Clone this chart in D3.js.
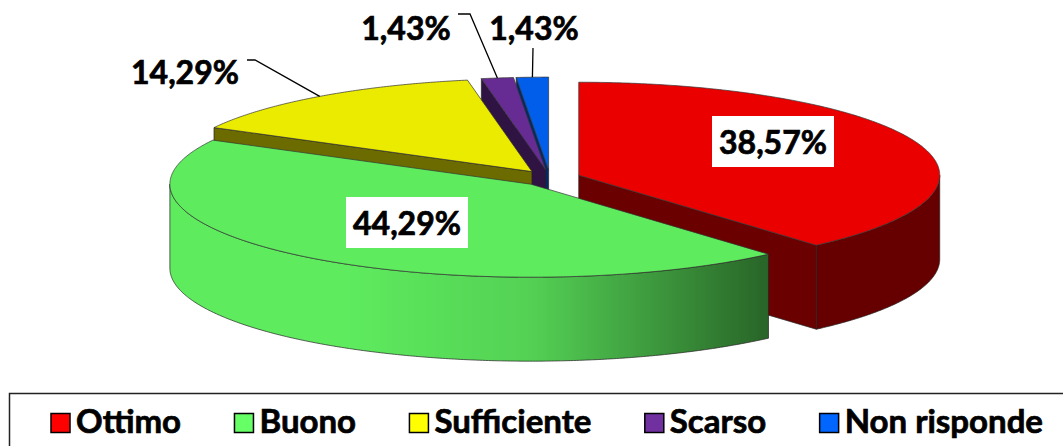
<!DOCTYPE html>
<html lang="it">
<head>
<meta charset="UTF-8">
<title>Giudizio</title>
<style>
  body { margin: 0; background: #fff; }
  svg { display: block; }
  .lbl, .leg { font-family: Lato, "Open Sans", sans-serif; font-weight: bold; fill: #000;
               stroke: #000; stroke-width: 0.7px; paint-order: stroke; }
  .lbl { font-size: 32px; }
  .leg { font-size: 33px; }
</style>
</head>
<body>
<div id="chart"></div>
<script src="https://cdnjs.cloudflare.com/ajax/libs/d3/7.8.5/d3.min.js"></script>
<script>
// data
var categories = ["Ottimo", "Buono", "Sufficiente", "Scarso", "Non risponde"];
var values = [38.57, 44.29, 14.29, 1.43, 1.43];
var palette = ["#FF0000", "#66FF66", "#FFFF00", "#7030A0", "#0066FF"];

// where Excel put each data label (text centre) + leader line start
var labelLayout = [
  { x: 773, y: 142, box: true },
  { x: 407, y: 223, box: true },
  { x: 185, y: 72, leader: [[247, 60], [255, 60]] },
  { x: 406, y: 28, leader: [[458, 14], [470, 14]] },
  { x: 534, y: 28, leader: [[533, 48]] }
];

var W = 1063, H = 446;
var cx = 550, cy = 178, rx = 361, ry = 93, depth = 84, explode = 0.085;

var it = d3.formatLocale({ decimal: ",", thousands: ".", grouping: [3], currency: ["", "€"] });
var fmt = function(v) { return it.format(".2f")(v) + "%"; };

var svg = d3.select("#chart").append("svg")
  .attr("width", W).attr("height", H);
var defs = svg.append("defs");

var pie = d3.pie().sort(null).value(function(d) { return d; });
var arcs = pie(values);

function pt(c, a, r) {
  return [c[0] + Math.sin(a) * rx * r, c[1] - Math.cos(a) * ry * r];
}
function down(p) { return [p[0], p[1] + depth]; }
function shade(col, k) {
  var c = d3.rgb(col);
  return d3.rgb(c.r * k, c.g * k, c.b * k).formatHex();
}
// light from the left: wall brightness by angle
function wallK(a) {
  var s = Math.sin(a);
  var k = s > 0 ? 0.82 - 0.65 * s : 0.82 - 0.2 * s;
  return Math.max(0.40, Math.min(0.92, k));
}
var line = d3.line();

var slices = arcs.map(function(d, i) {
  var mid = (d.startAngle + d.endAngle) / 2;
  var c = pt([cx, cy], mid, explode);
  return { d: d, i: i, mid: mid, c: c };
});

// back-to-front
var order = slices.slice().sort(function(a, b) {
  return -Math.cos(a.mid) - -Math.cos(b.mid);
});

var g = svg.append("g");
order.forEach(function(s) {
  var a0 = s.d.startAngle, a1 = s.d.endAngle, col = palette[s.i];
  var sg = g.append("g");

  // radial faces that face the viewer
  [[a0, Math.sin(a0) < -1e-6], [a1, Math.sin(a1) > 1e-6]].forEach(function(f) {
    if (!f[1]) return;
    var p = pt(s.c, f[0], 1);
    sg.append("path")
      .attr("d", line([s.c, p, down(p), down(s.c)]) + "Z")
      .attr("fill", shade(col, 0.42))
      .attr("stroke", "#222").attr("stroke-width", 0.7).attr("stroke-linejoin", "round");
  });

  // outer wall, front half only, horizontal gradient
  var w0 = Math.max(a0, Math.PI / 2), w1 = Math.min(a1, Math.PI * 1.5);
  if (w1 > w0) {
    var n = Math.ceil((w1 - w0) / (Math.PI / 360));
    var step = (w1 - w0) / n;
    var topRim = d3.range(n + 1).map(function(k) { return pt(s.c, w0 + k * step, 1); });
    var xs = topRim.map(function(p) { return p[0]; });
    var xMin = d3.min(xs), xMax = d3.max(xs);
    var gid = "wall" + s.i;
    var grad = defs.append("linearGradient").attr("id", gid)
      .attr("gradientUnits", "userSpaceOnUse")
      .attr("x1", xMin).attr("x2", xMax).attr("y1", 0).attr("y2", 0);
    d3.range(n + 1).map(function(k) { return w0 + k * step; })
      .sort(function(a, b) { return pt(s.c, a, 1)[0] - pt(s.c, b, 1)[0]; })
      .forEach(function(a) {
        var off = xMax > xMin ? (pt(s.c, a, 1)[0] - xMin) / (xMax - xMin) : 0;
        grad.append("stop").attr("offset", off).attr("stop-color", shade(col, wallK(a)));
      });
    var botRim = topRim.map(down).reverse();
    sg.append("path")
      .attr("d", line(topRim.concat(botRim)) + "Z")
      .attr("fill", "url(#" + gid + ")").attr("stroke", "#222").attr("stroke-width", 0.7);
  }

  // top
  var m = Math.ceil((a1 - a0) / (Math.PI / 360));
  var rim = d3.range(m + 1).map(function(k) { return pt(s.c, a0 + (a1 - a0) * k / m, 1); });
  sg.append("path")
    .attr("d", line([s.c].concat(rim)) + "Z")
    .attr("fill", shade(col, 0.92))
    .attr("stroke", "#333").attr("stroke-width", 0.7).attr("stroke-linejoin", "round");
});

// data labels
var lg = svg.append("g");
slices.forEach(function(s) {
  var L = labelLayout[s.i];
  if (L.box) {
    lg.append("rect")
      .attr("x", L.x - 61).attr("y", L.y - 26)
      .attr("width", 122).attr("height", 51)
      .attr("fill", "#fff");
  }
  lg.append("text").attr("class", "lbl")
    .attr("x", L.x).attr("y", L.y + 11.5)
    .attr("text-anchor", "middle")
    .text(fmt(values[s.i]));
  if (L.leader) {
    var anchor = pt(s.c, s.mid, 1);
    lg.append("path")
      .attr("d", line(L.leader.concat([anchor])))
      .attr("fill", "none").attr("stroke", "#000").attr("stroke-width", 1.3);
  }
});

// legend
var legY = 393;
svg.append("rect")
  .attr("x", 9.5).attr("y", legY + 0.5)
  .attr("width", 1100).attr("height", 100)
  .attr("fill", "none").attr("stroke", "#222").attr("stroke-width", 1.5);

var leg = svg.append("g");
var items = categories.map(function(name, i) {
  var gi = leg.append("g");
  gi.append("rect")
    .attr("width", 19).attr("height", 19).attr("y", 413.5)
    .attr("fill", palette[i]).attr("stroke", "#000").attr("stroke-width", 1.5);
  var tx = gi.append("text").attr("class", "leg")
    .attr("x", 25).attr("y", 433).text(name);
  return { g: gi, w: 25 + tx.node().getComputedTextLength() };
});
var legLeft = 51, legRight = 1043;
var gap = (legRight - legLeft - d3.sum(items, function(d) { return d.w; })) / (items.length - 1);
var x0 = legLeft;
items.forEach(function(d) {
  d.g.attr("transform", "translate(" + x0 + ",0)");
  x0 += d.w + gap;
});
</script>
</body>
</html>
